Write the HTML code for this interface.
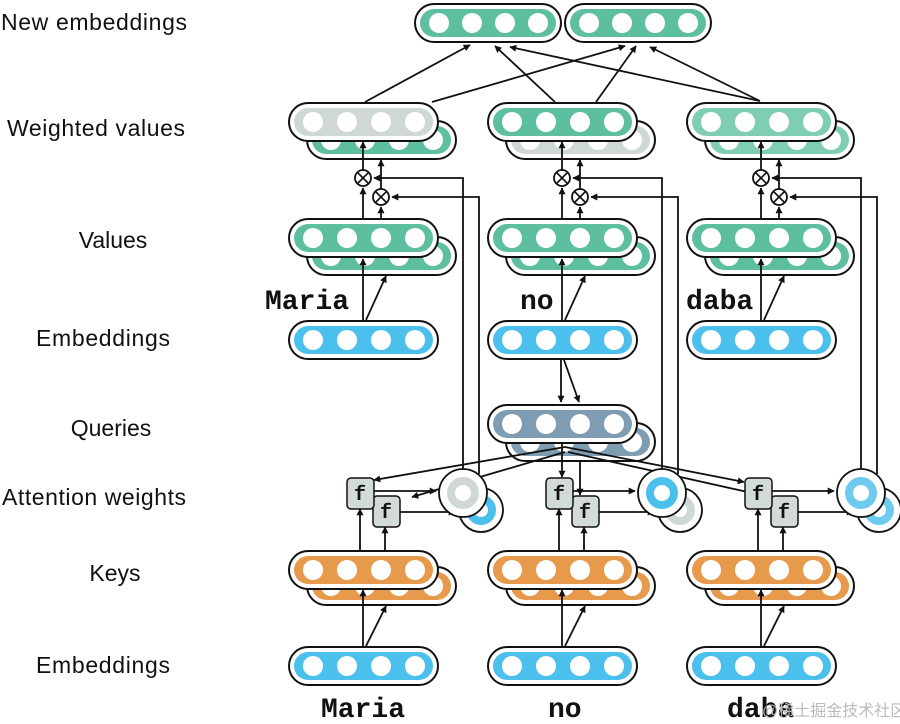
<!DOCTYPE html>
<html><head><meta charset="utf-8"><style>
html,body{margin:0;padding:0;background:#fff;}
svg{display:block;}
.lbl{font-family:"Liberation Sans",sans-serif;font-size:23px;fill:#111;text-anchor:middle;}
.w{font-family:"Liberation Mono",monospace;font-size:28px;font-weight:bold;fill:#111;}
.f{font-family:"Liberation Mono",monospace;font-size:20px;font-weight:bold;fill:#111;text-anchor:middle;}
</style></head><body>
<svg width="900" height="724" viewBox="0 0 900 724" xmlns="http://www.w3.org/2000/svg">
<defs>
<marker id="a" viewBox="0 0 10 10" refX="9" refY="5" markerWidth="7" markerHeight="7" orient="auto-start-reverse" markerUnits="userSpaceOnUse"><path d="M0,0 L10,5 L0,10 z" fill="#111"/></marker>
<symbol id="pill" viewBox="0 0 151 40" width="151" height="40">
<rect x="1" y="1" width="149" height="38" rx="19" fill="#fff" stroke="#111" stroke-width="2"/>
<rect x="6" y="6" width="139" height="28" rx="14" fill="currentColor"/>
<circle cx="25" cy="20" r="10" fill="#fff"/><circle cx="59" cy="20" r="10" fill="#fff"/>
<circle cx="93" cy="20" r="10" fill="#fff"/><circle cx="127" cy="20" r="10" fill="#fff"/>
</symbol>
<symbol id="pillN" viewBox="0 0 148 40" width="148" height="40">
<rect x="1" y="1" width="146" height="38" rx="19" fill="#fff" stroke="#111" stroke-width="2"/>
<rect x="6" y="6" width="136" height="28" rx="14" fill="currentColor"/>
<circle cx="25" cy="20" r="10" fill="#fff"/><circle cx="58" cy="20" r="10" fill="#fff"/>
<circle cx="91" cy="20" r="10" fill="#fff"/><circle cx="124" cy="20" r="10" fill="#fff"/>
</symbol>
<symbol id="ox" viewBox="0 0 18 18" width="18" height="18">
<circle cx="9" cy="9" r="8" fill="#fff" stroke="#111" stroke-width="1.8"/>
<path d="M3.5,3.5 L14.5,14.5 M14.5,3.5 L3.5,14.5" stroke="#111" stroke-width="1.6"/>
</symbol>
</defs>

<!-- labels -->
<text class="lbl" x="94" y="30" textLength="186">New embeddings</text>
<text class="lbl" x="96" y="136" textLength="178">Weighted values</text>
<text class="lbl" x="113" y="248">Values</text>
<text class="lbl" x="103" y="346" textLength="134">Embeddings</text>
<text class="lbl" x="111" y="436">Queries</text>
<text class="lbl" x="94" y="505" textLength="184">Attention weights</text>
<text class="lbl" x="115" y="581">Keys</text>
<text class="lbl" x="103" y="673" textLength="134">Embeddings</text>

<!-- new embeddings -->
<use href="#pillN" x="414" y="3" style="color:#5dbf9f"/>
<use href="#pillN" x="564" y="3" style="color:#5dbf9f"/>

<g stroke="#111" stroke-width="1.8" fill="none" marker-end="url(#a)">
<line x1="365" y1="102" x2="470" y2="45"/>
<line x1="432" y1="102" x2="625" y2="46"/>
<line x1="555" y1="102" x2="495" y2="46"/>
<line x1="596" y1="102" x2="636" y2="46"/>
<line x1="760" y1="101" x2="510" y2="47"/>
<line x1="760" y1="101" x2="650" y2="47"/>
</g>

<!-- column 1 -->
<use href="#pill" x="306" y="120" style="color:#5dbf9f"/>
<use href="#pill" x="288" y="102" style="color:#cfd7d7"/>
<use href="#pill" x="306" y="236" style="color:#5dbf9f"/>
<use href="#pill" x="288" y="218" style="color:#5dbf9f"/>
<use href="#pill" x="288" y="320" style="color:#4cc0ec"/>
<use href="#pill" x="306" y="566" style="color:#e89a4c"/>
<use href="#pill" x="288" y="550" style="color:#e89a4c"/>
<use href="#pill" x="288" y="646" style="color:#4cc0ec"/>

<!-- column 2 -->
<use href="#pill" x="505" y="120" style="color:#cfd7d7"/>
<use href="#pill" x="487" y="102" style="color:#5dbf9f"/>
<use href="#pill" x="505" y="236" style="color:#5dbf9f"/>
<use href="#pill" x="487" y="218" style="color:#5dbf9f"/>
<use href="#pill" x="487" y="320" style="color:#4cc0ec"/>
<use href="#pill" x="505" y="422" style="color:#7f9db2"/>
<use href="#pill" x="487" y="404" style="color:#7f9db2"/>
<use href="#pill" x="505" y="566" style="color:#e89a4c"/>
<use href="#pill" x="487" y="550" style="color:#e89a4c"/>
<use href="#pill" x="487" y="646" style="color:#4cc0ec"/>

<!-- column 3 -->
<use href="#pill" x="704" y="120" style="color:#7fcdb3"/>
<use href="#pill" x="686" y="102" style="color:#7fcdb3"/>
<use href="#pill" x="704" y="236" style="color:#5dbf9f"/>
<use href="#pill" x="686" y="218" style="color:#5dbf9f"/>
<use href="#pill" x="686" y="320" style="color:#4cc0ec"/>
<use href="#pill" x="704" y="566" style="color:#e89a4c"/>
<use href="#pill" x="686" y="550" style="color:#e89a4c"/>
<use href="#pill" x="686" y="646" style="color:#4cc0ec"/>

<!-- words -->
<text class="w" x="265" y="309">Maria</text>
<text class="w" x="520" y="309">no</text>
<text class="w" x="686" y="309">daba</text>
<text class="w" x="321" y="717">Maria</text>
<text class="w" x="548" y="717">no</text>
<text class="w" x="727" y="717">daba</text>
<text x="762" y="716" style="font-family:'Liberation Sans','Noto Sans CJK SC',sans-serif;font-size:16px;fill:#bbb">@稀土掘金技术社区</text>

<!-- query arrows -->
<g stroke="#111" stroke-width="1.8" fill="none" marker-end="url(#a)">
<line x1="561" y1="360" x2="561" y2="402"/>
<line x1="564" y1="360" x2="579" y2="402"/>
<line x1="565" y1="447" x2="374" y2="480"/>
<line x1="565" y1="452" x2="412" y2="497"/>
<line x1="562" y1="444" x2="562" y2="477"/>
<line x1="580" y1="460" x2="580" y2="495"/>
<line x1="565" y1="447" x2="744" y2="482"/>
<line x1="568" y1="452" x2="770" y2="497"/>
</g>

<g>
<g stroke="#111" stroke-width="1.8" fill="none" marker-end="url(#a)">
<line x1="363" y1="646" x2="363" y2="590"/>
<line x1="366" y1="646" x2="386" y2="606"/>
<line x1="360" y1="550" x2="360" y2="509"/>
<line x1="385" y1="550" x2="385" y2="527"/>
<line x1="373" y1="491" x2="436" y2="491"/>
<line x1="400" y1="512" x2="455" y2="512"/>
<line x1="363" y1="320" x2="363" y2="259"/>
<line x1="366" y1="320" x2="386" y2="276"/>
<line x1="363" y1="218" x2="363" y2="188"/>
<line x1="381" y1="218" x2="381" y2="207"/>
<line x1="363" y1="170" x2="363" y2="142"/>
<line x1="381" y1="189" x2="381" y2="160"/>
<polyline points="463,470 463,178 374,178"/>
<polyline points="479,474 479,197 392,197"/>
</g>
<use href="#ox" x="354" y="169"/>
<use href="#ox" x="372" y="188"/>
<rect x="373" y="496" width="27" height="31" rx="4" fill="#d3dada" stroke="#111" stroke-width="1.5"/>
<text class="f" x="386" y="518">f</text>
<rect x="347" y="478" width="27" height="31" rx="4" fill="#d3dada" stroke="#111" stroke-width="1.5"/>
<text class="f" x="360" y="500">f</text>
<circle cx="481" cy="510" r="22" fill="#fff" stroke="#111" stroke-width="1.8"/>
<circle cx="481" cy="510" r="11" fill="none" stroke="#4cc0ec" stroke-width="8"/>
<circle cx="463" cy="493" r="24" fill="#fff" stroke="#111" stroke-width="1.8"/>
<circle cx="463" cy="493" r="12" fill="none" stroke="#cfd7d7" stroke-width="8"/>
</g>

<g transform="translate(199,0)">
<g stroke="#111" stroke-width="1.8" fill="none" marker-end="url(#a)">
<line x1="363" y1="646" x2="363" y2="590"/>
<line x1="366" y1="646" x2="386" y2="606"/>
<line x1="360" y1="550" x2="360" y2="509"/>
<line x1="385" y1="550" x2="385" y2="527"/>
<line x1="373" y1="491" x2="436" y2="491"/>
<line x1="400" y1="512" x2="455" y2="512"/>
<line x1="363" y1="320" x2="363" y2="259"/>
<line x1="366" y1="320" x2="386" y2="276"/>
<line x1="363" y1="218" x2="363" y2="188"/>
<line x1="381" y1="218" x2="381" y2="207"/>
<line x1="363" y1="170" x2="363" y2="142"/>
<line x1="381" y1="189" x2="381" y2="160"/>
<polyline points="463,470 463,178 374,178"/>
<polyline points="479,474 479,197 392,197"/>
</g>
<use href="#ox" x="354" y="169"/>
<use href="#ox" x="372" y="188"/>
<rect x="373" y="496" width="27" height="31" rx="4" fill="#d3dada" stroke="#111" stroke-width="1.5"/>
<text class="f" x="386" y="518">f</text>
<rect x="347" y="478" width="27" height="31" rx="4" fill="#d3dada" stroke="#111" stroke-width="1.5"/>
<text class="f" x="360" y="500">f</text>
<circle cx="481" cy="510" r="22" fill="#fff" stroke="#111" stroke-width="1.8"/>
<circle cx="481" cy="510" r="11" fill="none" stroke="#cfd7d7" stroke-width="8"/>
<circle cx="463" cy="493" r="24" fill="#fff" stroke="#111" stroke-width="1.8"/>
<circle cx="463" cy="493" r="12" fill="none" stroke="#4cc0ec" stroke-width="8"/>
</g>

<g transform="translate(398,0)">
<g stroke="#111" stroke-width="1.8" fill="none" marker-end="url(#a)">
<line x1="363" y1="646" x2="363" y2="590"/>
<line x1="366" y1="646" x2="386" y2="606"/>
<line x1="360" y1="550" x2="360" y2="509"/>
<line x1="385" y1="550" x2="385" y2="527"/>
<line x1="373" y1="491" x2="436" y2="491"/>
<line x1="400" y1="512" x2="455" y2="512"/>
<line x1="363" y1="320" x2="363" y2="259"/>
<line x1="366" y1="320" x2="386" y2="276"/>
<line x1="363" y1="218" x2="363" y2="188"/>
<line x1="381" y1="218" x2="381" y2="207"/>
<line x1="363" y1="170" x2="363" y2="142"/>
<line x1="381" y1="189" x2="381" y2="160"/>
<polyline points="463,470 463,178 374,178"/>
<polyline points="479,474 479,197 392,197"/>
</g>
<use href="#ox" x="354" y="169"/>
<use href="#ox" x="372" y="188"/>
<rect x="373" y="496" width="27" height="31" rx="4" fill="#d3dada" stroke="#111" stroke-width="1.5"/>
<text class="f" x="386" y="518">f</text>
<rect x="347" y="478" width="27" height="31" rx="4" fill="#d3dada" stroke="#111" stroke-width="1.5"/>
<text class="f" x="360" y="500">f</text>
<circle cx="481" cy="510" r="22" fill="#fff" stroke="#111" stroke-width="1.8"/>
<circle cx="481" cy="510" r="11" fill="none" stroke="#6fcaef" stroke-width="8"/>
<circle cx="463" cy="493" r="24" fill="#fff" stroke="#111" stroke-width="1.8"/>
<circle cx="463" cy="493" r="12" fill="none" stroke="#6fcaef" stroke-width="8"/>
</g>
</svg>
</body></html>
